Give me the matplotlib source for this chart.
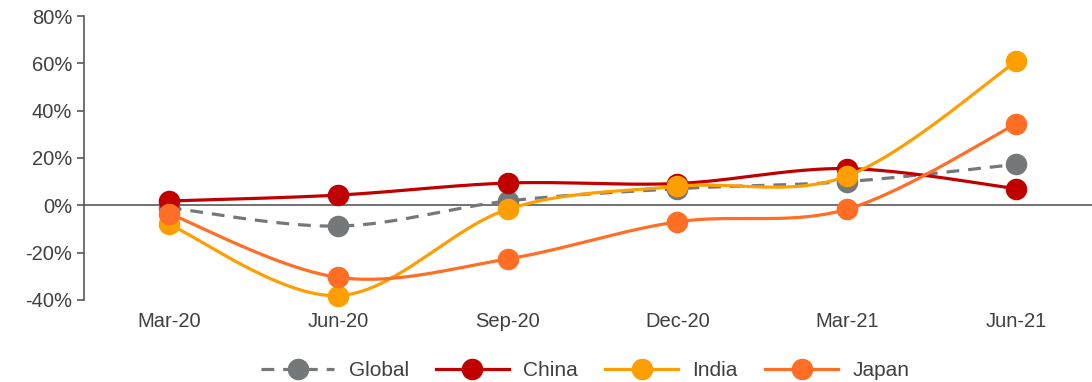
import numpy as np
import matplotlib.pyplot as plt
from matplotlib.lines import Line2D

plt.rcParams['font.family'] = ['Liberation Sans', 'DejaVu Sans']

quarters = ['Mar-20', 'Jun-20', 'Sep-20', 'Dec-20', 'Mar-21', 'Jun-21']
global_vals = [-1.0, -8.8, 1.8, 7.0, 10.0, 17.3]
china_vals = [1.8, 4.3, 9.4, 9.2, 15.5, 7.0]
india_vals = [-8.0, -38.2, -1.7, 8.0, 12.3, 60.8]
japan_vals = [-3.5, -30.5, -22.7, -7.0, -1.7, 34.4]
y_ticks = [-40, -20, 0, 20, 40, 60, 80]

series = [
    ('Global', global_vals, '#75787B', (0, (4, 2.8))),
    ('China', china_vals, '#C00000', '-'),
    ('India', india_vals, '#FF9E00', '-'),
    ('Japan', japan_vals, '#FF6E24', '-'),
]


def smooth(xs, ys, n=40):
    # catmull-rom style bezier, similar to excel's smoothed lines
    xs = np.asarray(xs, float)
    ys = np.asarray(ys, float)
    px = np.concatenate([[xs[0]], xs, [xs[-1]]])
    py = np.concatenate([[ys[0]], ys, [ys[-1]]])
    out_x, out_y = [], []
    t = np.linspace(0, 1, n)
    for i in range(1, len(px) - 2):
        p0 = np.array([px[i], py[i]])
        p3 = np.array([px[i + 1], py[i + 1]])
        p1 = p0 + (np.array([px[i + 1], py[i + 1]]) - np.array([px[i - 1], py[i - 1]])) / 6
        p2 = p3 - (np.array([px[i + 2], py[i + 2]]) - np.array([px[i], py[i]])) / 6
        b = ((1 - t) ** 3)[:, None] * p0 + (3 * (1 - t) ** 2 * t)[:, None] * p1 \
            + (3 * (1 - t) * t ** 2)[:, None] * p2 + (t ** 3)[:, None] * p3
        out_x.extend(b[:, 0])
        out_y.extend(b[:, 1])
    return np.array(out_x), np.array(out_y)


fig = plt.figure(figsize=(10.92, 3.82), dpi=100)
ax = fig.add_axes([0.077, 0.215, 0.923, 0.743])

x = np.arange(len(quarters))
ax.axhline(0, color='#595959', lw=1.2, zorder=1)

handles = []
for i, (name, vals, color, ls) in enumerate(series):
    sx, sy = smooth(x, vals)
    ax.plot(sx, sy, color=color, lw=2.3, ls=ls, zorder=2 + i, clip_on=False)
    ax.plot(x, vals, 'o', color=color, ms=14.5, zorder=2 + i, clip_on=False)
    handles.append(Line2D([], [], color=color, lw=2.3, ls=ls, marker='o', ms=14.5))

ax.set_xlim(-0.5, 5.447)
ax.set_ylim(-40, 80)
ax.set_yticks(y_ticks)
ax.set_yticklabels([f'{v}%' for v in y_ticks])
ax.set_xticks(x)
ax.set_xticklabels(quarters)

for s in ['top', 'right', 'bottom']:
    ax.spines[s].set_visible(False)
ax.spines['left'].set_color('#595959')
ax.spines['left'].set_linewidth(1.2)
ax.tick_params(axis='y', colors='#595959', labelcolor='#404040', labelsize=14.5, length=5, width=1.2)
ax.tick_params(axis='x', length=0, labelcolor='#404040', labelsize=14.5, pad=9)

fig.legend(handles, [s[0] for s in series], loc='center', bbox_to_anchor=(0.536, 0.03),
           ncol=4, frameon=False, fontsize=15, handlelength=3.5, columnspacing=1.3,
           handletextpad=0.7, labelcolor='#404040')

fig.savefig('out.png', dpi=100)
